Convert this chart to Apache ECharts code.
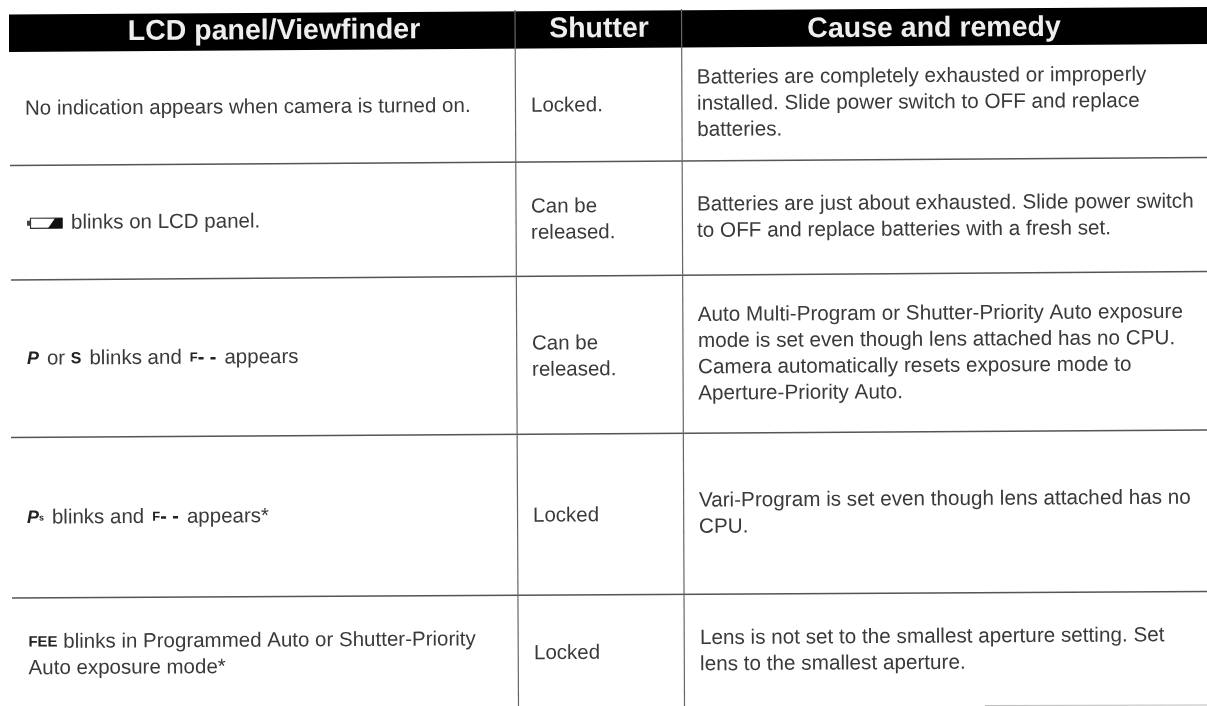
<!DOCTYPE html>
<html>
<head>
<meta charset="utf-8">
<title>LCD panel table</title>
<script src="https://cdn.jsdelivr.net/npm/echarts@6/dist/echarts.min.js"></script>
<style>
html, body { margin: 0; padding: 0; background: #fff; overflow: hidden; }
#main { width: 1207px; height: 706px; }
</style>
</head>
<body>
<div id="main"></div>
<script>
// table content
var headers = ['LCD panel/Viewfinder', 'Shutter', 'Cause and remedy'];
var panelText = [
    'No indication appears when camera is turned on.',
    'blinks on LCD panel.',
    '{p|P}{sp| } or {s|S}{sp| } blinks and {sp| }{f|F}{d|- -}{sp| } appears',
    '{p|P}{sub|s}{sp| } blinks and {sp| }{f|F}{d|- -}{sp| } appears*',
    '{fe|FEE} blinks in Programmed Auto or Shutter-Priority\nAuto exposure mode*'
];
var shutterText = ['Locked.', 'Can be\nreleased.', 'Can be\nreleased.', 'Locked', 'Locked'];
var remedyText = [
    'Batteries are completely exhausted or improperly\ninstalled. Slide power switch to OFF and replace\nbatteries.',
    'Batteries are just about exhausted. Slide power switch\nto OFF and replace batteries with a fresh set.',
    'Auto Multi-Program or Shutter-Priority Auto exposure\nmode is set even though lens attached has no CPU.\nCamera automatically resets exposure mode to\nAperture-Priority Auto.',
    'Vari-Program is set even though lens attached has no\nCPU.',
    'Lens is not set to the smallest aperture setting. Set\nlens to the smallest aperture.'
];

// layout (page is a little tilted)
var tilt = 0.0062;
var headerBox = [[9, 14.5], [1207, 7], [1207, 44], [9, 52]];
var headerCenters = [[274, 31.2], [599, 29.2], [934, 28.7]];
var rowLines = [[10, 165.5, 1207, 157.5], [11, 280, 1207, 271.5], [11, 437.5, 1207, 430], [12, 598, 1207, 591.5]];
var colLines = [[515, 10, 518.5, 706], [681.5, 9, 684.5, 706]];
var panelPos = [[25, 109], [71, 223], [27, 359], [27, 518], [28.5, 655.5]];
var shutterPos = [[531, 106], [531, 220], [532, 357], [533, 516], [534, 653.5]];
var remedyPos = [[697, 104], [697, 218], [698, 354.5], [699, 514], [700, 651.5]];

var bodyFont = 'Liberation Sans';
var bodyColor = '#3a3a3a';
var lcdColor = '#222';
var bodyLine = 26.2;
var graphics = [];

graphics.push({
    type: 'polygon',
    shape: { points: headerBox },
    style: { fill: '#000' }
});

rowLines.forEach(function (l) {
    graphics.push({
        type: 'line',
        shape: { x1: l[0], y1: l[1], x2: l[2], y2: l[3] },
        style: { stroke: '#555', lineWidth: 1.7 }
    });
});
colLines.forEach(function (l) {
    graphics.push({
        type: 'line',
        shape: { x1: l[0], y1: l[1], x2: l[2], y2: l[3] },
        style: { stroke: '#666', lineWidth: 1.2 }
    });
});
// faint edge of the page at the bottom right
graphics.push({
    type: 'line',
    shape: { x1: 985, y1: 705.5, x2: 1207, y2: 705 },
    style: { stroke: '#bbb', lineWidth: 1 }
});

headers.forEach(function (h, i) {
    graphics.push({
        type: 'text',
        x: headerCenters[i][0],
        y: headerCenters[i][1],
        rotation: tilt,
        style: {
            text: h,
            fill: '#eee',
            fontFamily: bodyFont,
            fontWeight: 'bold',
            fontSize: 28.5,
            align: 'center',
            verticalAlign: 'middle'
        }
    });
});

function lcdStyle(size, italic) {
    return {
        fontFamily: bodyFont,
        fontWeight: 'bold',
        fontStyle: italic ? 'italic' : 'normal',
        fontSize: size,
        fill: lcdColor,
        lineHeight: bodyLine
    };
}

function addColumn(texts, pos, size) {
    texts.forEach(function (t, i) {
        graphics.push({
            type: 'text',
            x: pos[i][0],
            y: pos[i][1],
            rotation: tilt,
            style: {
                text: t,
                fill: bodyColor,
                fontFamily: bodyFont,
                fontSize: size,
                lineHeight: bodyLine,
                align: 'left',
                verticalAlign: 'middle',
                rich: {
                    p: lcdStyle(18, true),
                    s: lcdStyle(16, false),
                    sub: lcdStyle(9, false),
                    f: lcdStyle(13, false),
                    d: lcdStyle(20, false),
                    fe: lcdStyle(15, false),
                    sp: lcdStyle(8, false)
                }
            }
        });
    });
}
addColumn(panelText, panelPos, 20.5);
addColumn(shutterText, shutterPos, 20.5);
addColumn(remedyText, remedyPos, 20.7);

// battery symbol in front of the second row
graphics.push({
    type: 'group',
    x: 27,
    y: 223.3,
    rotation: tilt,
    children: [
        { type: 'rect', shape: { x: 0, y: -2.5, width: 3, height: 5 }, style: { fill: '#444' } },
        { type: 'rect', shape: { x: 3.5, y: -5, width: 31.5, height: 10 }, style: { fill: 'none', stroke: '#333', lineWidth: 1.2 } },
        { type: 'polygon', shape: { points: [[21, 5], [28, -5], [35.5, -5], [35.5, 5]] }, style: { fill: '#111' } }
    ]
});

var main = document.getElementById('main');
var tableChart = echarts.init(main);
tableChart.setOption({
    backgroundColor: '#fff',
    animation: false,
    graphic: { elements: graphics }
});
</script>
</body>
</html>
